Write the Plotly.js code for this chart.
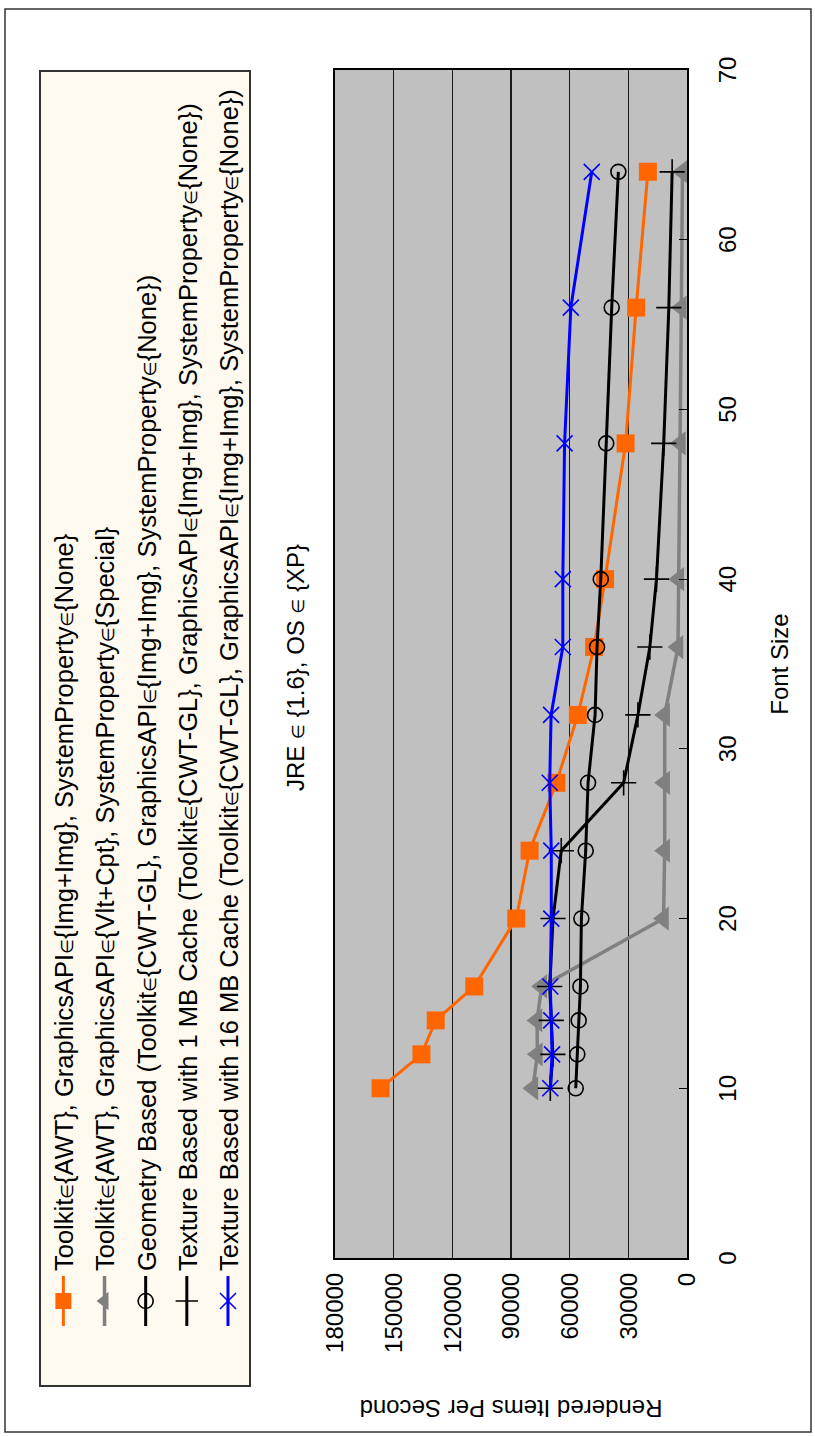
<!DOCTYPE html>
<html>
<head>
<meta charset="utf-8">
<script src="https://cdn.plot.ly/plotly-3.0.1.min.js"></script>
<style>
  html, body { margin: 0; padding: 0; background: #ffffff; overflow: hidden; }
  #stage { position: absolute; left: 0; top: 0; width: 815px; height: 1436px; overflow: hidden; }
  #chart { position: absolute; left: 0; top: 0; width: 1436px; height: 815px;
           transform-origin: 0 0; transform: translateY(1436px) rotate(-90deg); }
</style>
</head>
<body>
<div id="stage"><div id="chart"></div></div>
<script>
// ---- data ----
const fontSizes = [10, 12, 14, 16, 20, 24, 28, 32, 36, 40, 48, 56, 64];

const awtImgImg   = [156700, 135800, 128500, 108800, 87300, 80500, 66800, 55800, 47500, 41900, 31400, 26000, 20000];
const awtVltCpt   = [78800, 76500, 76700, 74300, 12000, 11400, 11400, 11400, 4600, 4200, 3400, 2900, 2300];
const geometry    = [56900, 56100, 55400, 54500, 54000, 51800, 50600, 47000, 46000, 44100, 41300, 38500, 35100];
const texture1MB  = [69900, 68600, 69400, 70200, 68500, 64300, 32400, 25100, 19000, 15600, 11900, 9300, 7600];
const texture16MB = [69900, 69000, 69400, 69900, 69400, 69400, 70200, 69500, 63500, 63500, 62600, 59400, 48700];

const IN = '<span style="font-family:DejaVu Sans;font-size:17px">\u2208</span>';
const seriesNames = [
  'Toolkit' + IN + '{AWT}, GraphicsAPI' + IN + '{Img+Img}, SystemProperty' + IN + '{None}',
  'Toolkit' + IN + '{AWT}, GraphicsAPI' + IN + '{Vlt+Cpt}, SystemProperty' + IN + '{Special}',
  'Geometry Based (Toolkit' + IN + '{CWT-GL}, GraphicsAPI' + IN + '{Img+Img}, SystemProperty' + IN + '{None})',
  'Texture Based with 1 MB Cache (Toolkit' + IN + '{CWT-GL}, GraphicsAPI' + IN + '{Img+Img}, SystemProperty' + IN + '{None})',
  'Texture Based with 16 MB Cache (Toolkit' + IN + '{CWT-GL}, GraphicsAPI' + IN + '{Img+Img}, SystemProperty' + IN + '{None})'
];
const chartTitle = 'JRE ' + IN + ' {1.6}, OS ' + IN + ' {XP}';
const xTitle = 'Font Size';
const yTitle = 'Rendered Items Per Second';
const xTicks = [0, 10, 20, 30, 40, 50, 60, 70];
const yTicks = [0, 30000, 60000, 90000, 120000, 150000, 180000];

// ---- geometry of the (unrotated) figure ----
const W = 1436, H = 815;
const M = { l: 178, r: 70, t: 335, b: 128 };
const PW = W - M.l - M.r, PH = H - M.t - M.b;
const px = X => (X - M.l) / PW;
const py = Y => (H - M.b - Y) / PH;

const FONT = 'Liberation Sans, Arial, Helvetica, sans-serif';

const traces = [
  { y: awtImgImg, name: seriesNames[0], line: { color: '#ff6600', width: 3 },
    marker: { symbol: 'square', size: 18, color: '#ff6600' } },
  { y: awtVltCpt, name: seriesNames[1], line: { color: '#808080', width: 3.5 },
    marker: { symbol: 'triangle-up', size: 21, color: '#808080' } },
  { y: geometry, name: seriesNames[2], line: { color: '#000000', width: 3 },
    marker: { symbol: 'circle-open', size: 15, color: '#000000', line: { width: 1.6, color: '#000000' } } },
  { y: texture1MB, name: seriesNames[3], line: { color: '#000000', width: 3 },
    marker: { symbol: 'cross-thin-open', size: 18, color: '#000000', line: { width: 1.6, color: '#000000' } } },
  { y: texture16MB, name: seriesNames[4], line: { color: '#0000ff', width: 3 },
    marker: { symbol: 'x-thin-open', size: 16, color: '#0000ff', line: { width: 1.6, color: '#0000ff' } } }
].map((t, i) => Object.assign({ x: fontSizes, type: 'scatter', mode: 'lines+markers',
                                 legendgroup: 'g' + i, hoverinfo: 'x+y+name' }, t));

const layout = {
  width: W, height: H,
  margin: { l: M.l, r: M.r, t: M.t, b: M.b, pad: 0, autoexpand: false },
  paper_bgcolor: '#ffffff',
  plot_bgcolor: '#c0c0c0',
  font: { family: FONT, size: 24, color: '#000000' },
  showlegend: true,
  title: { text: chartTitle, font: { family: FONT, size: 24, color: '#000000' },
           xref: 'paper', x: px(768.5), xanchor: 'center',
           yref: 'container', y: 1 - 296 / H, yanchor: 'middle' },
  xaxis: {
    range: [0, 70], tickvals: xTicks, ticktext: xTicks.map(String),
    ticks: 'inside', ticklen: 8, tickwidth: 1.2, tickcolor: '#000000',
    showgrid: false, zeroline: false,
    showline: true, linecolor: '#000000', linewidth: 2, mirror: true,
    ticklabelstandoff: 18,
    tickfont: { family: FONT, size: 24, color: '#000000' },
    title: { text: xTitle, font: { family: FONT, size: 24, color: '#000000' }, standoff: 31 }
  },
  yaxis: {
    range: [0, 180000], tickvals: yTicks, ticktext: yTicks.map(String),
    ticks: '', showgrid: true, gridcolor: '#1a1a1a', gridwidth: 1.4, zeroline: false,
    showline: true, linecolor: '#000000', linewidth: 2, mirror: true,
    ticklabelstandoff: 8,
    tickfont: { family: FONT, size: 24, color: '#000000' },
    title: { text: yTitle, font: { family: FONT, size: 24, color: '#000000' }, standoff: 40 }
  },
  legend: {
    x: px(105), y: py(40.3), xanchor: 'left', yanchor: 'top',
    bgcolor: 'rgba(0,0,0,0)', borderwidth: 0,
    font: { family: FONT, size: 25.5, color: '#000000' },
    itemwidth: 50, tracegroupgap: 5, traceorder: 'grouped'
  },
  shapes: [
    // outer frame
    { type: 'rect', xref: 'paper', yref: 'paper', layer: 'below',
      x0: px(4), x1: px(1427), y0: py(811), y1: py(5),
      line: { color: '#333333', width: 1.5 }, fillcolor: 'rgba(0,0,0,0)' },
    // legend box
    { type: 'rect', xref: 'paper', yref: 'paper', layer: 'below',
      x0: px(50), x1: px(1365), y0: py(250), y1: py(40),
      line: { color: '#333333', width: 2 }, fillcolor: '#fffaf0' }
  ]
};

Plotly.newPlot('chart', traces, layout, { displayModeBar: false, staticPlot: true });
</script>
</body>
</html>
